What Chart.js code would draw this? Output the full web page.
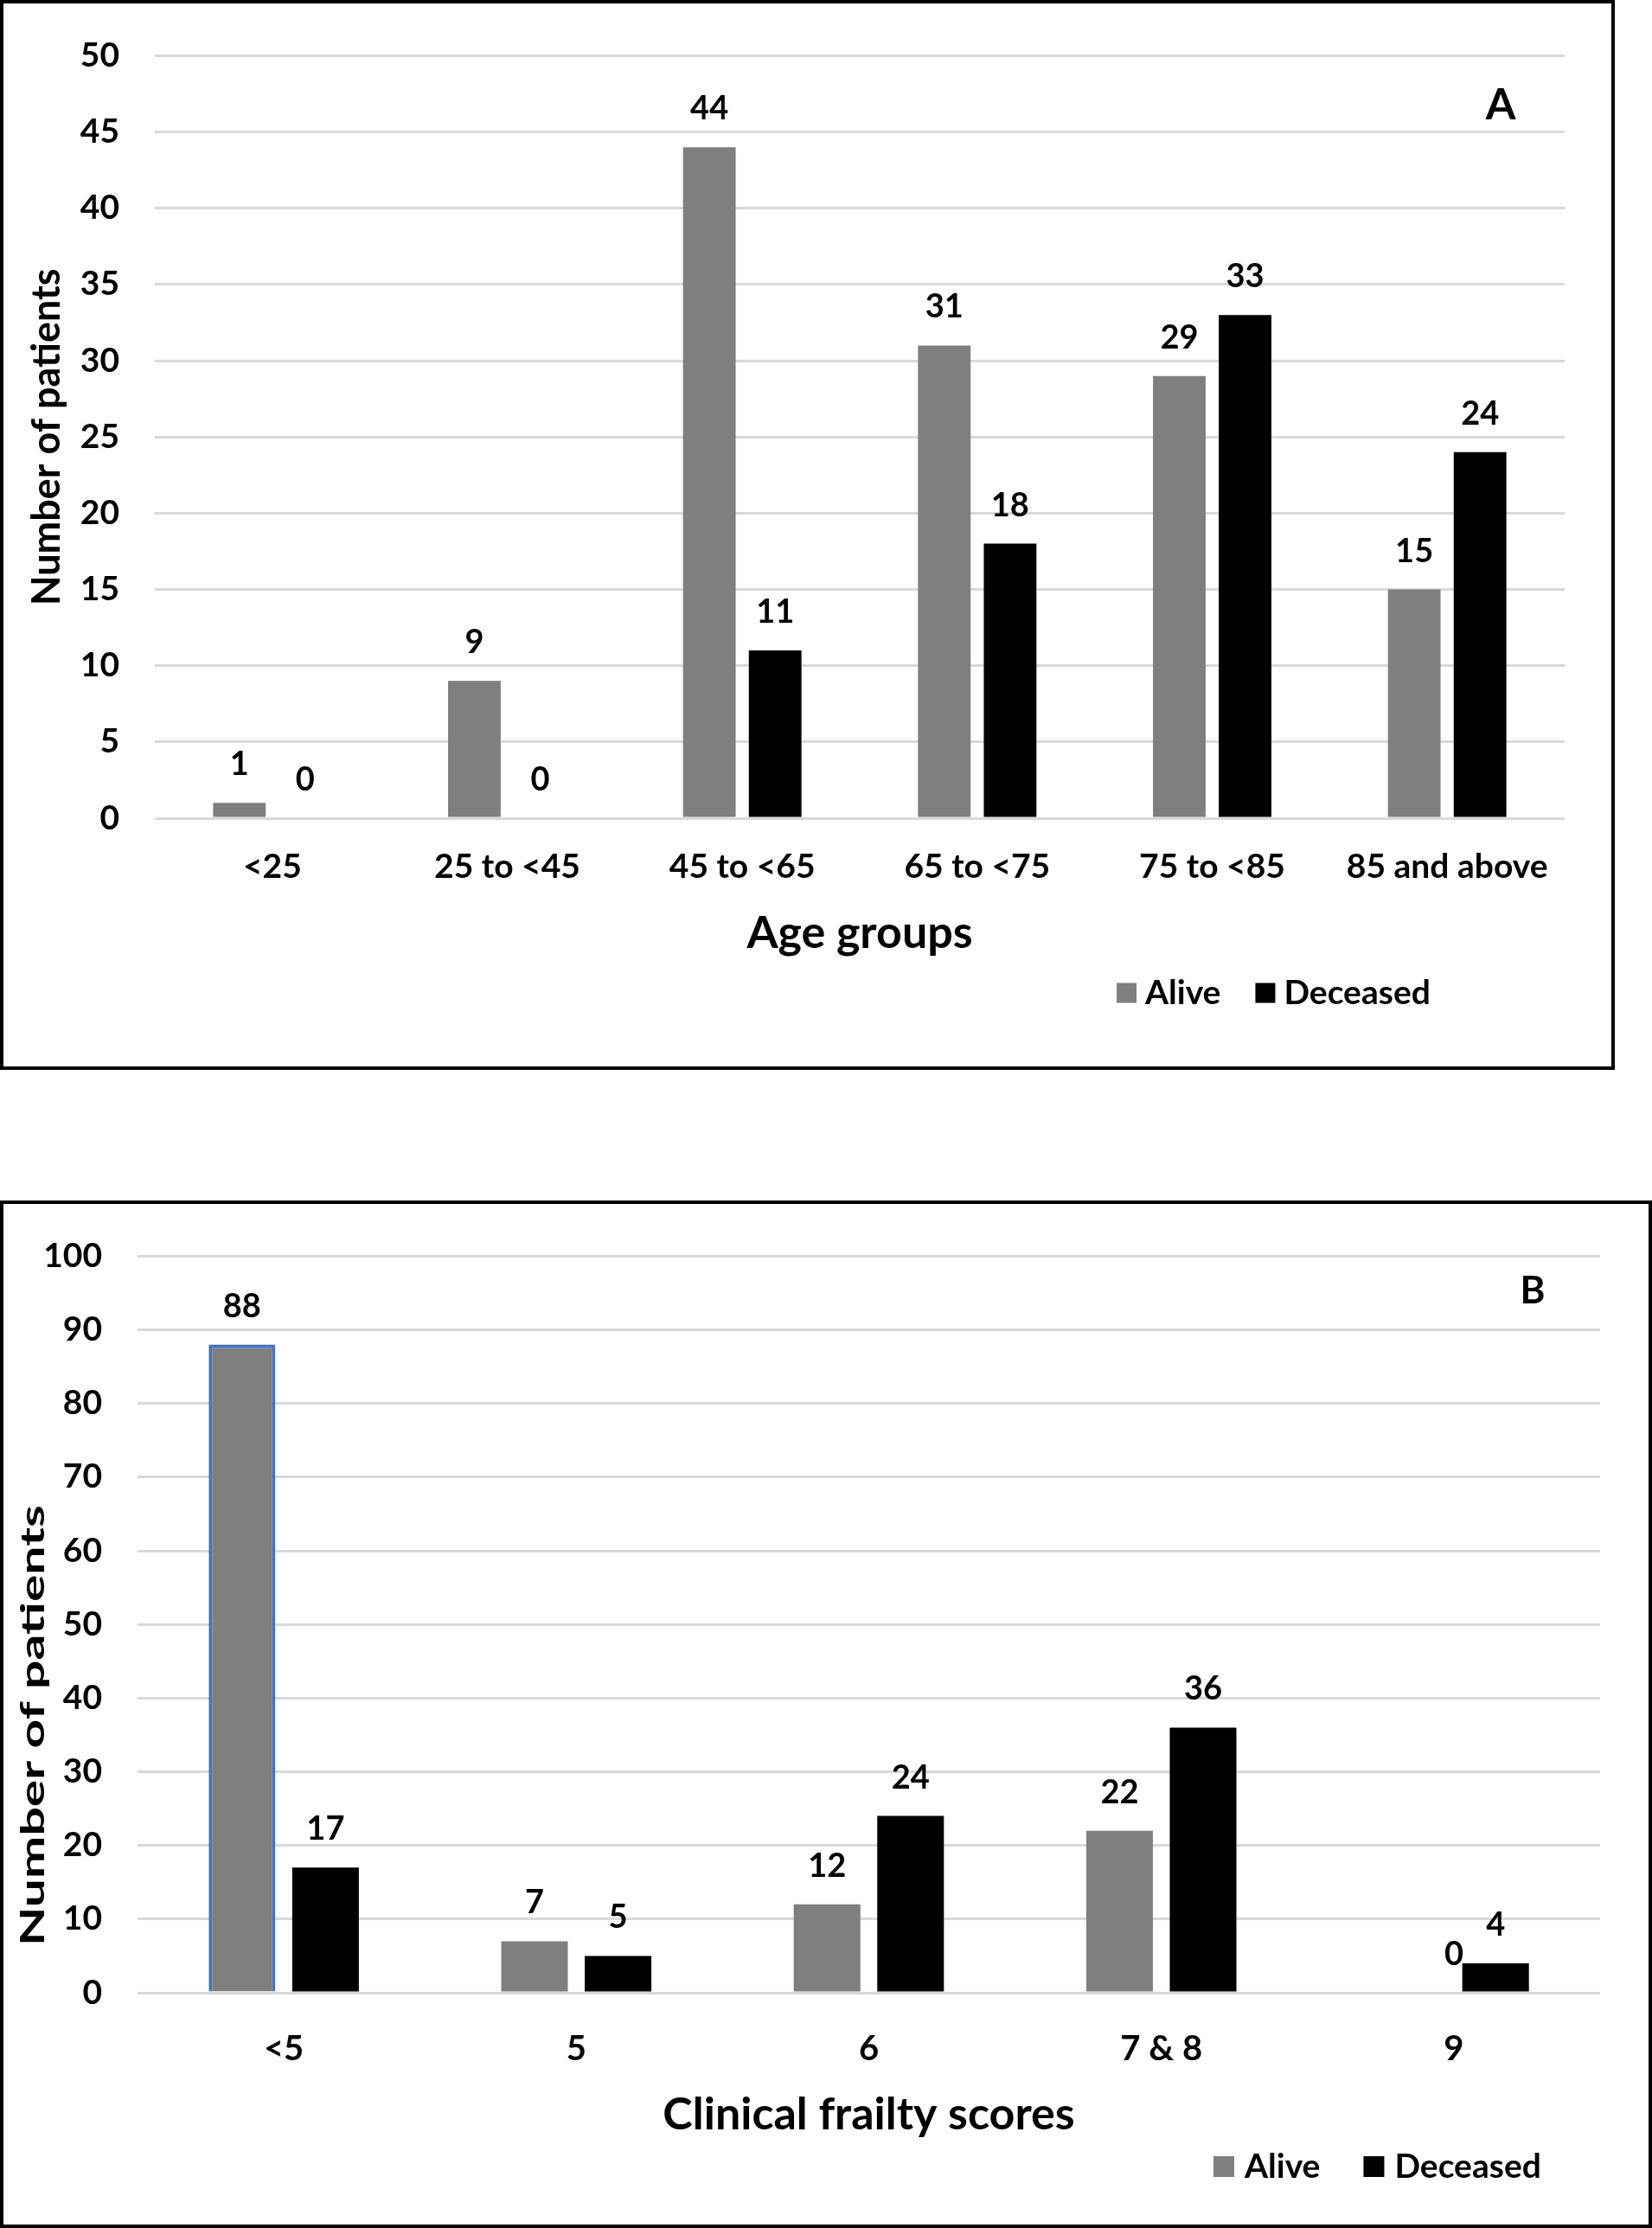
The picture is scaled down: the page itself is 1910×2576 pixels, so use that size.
<!DOCTYPE html>
<html><head><meta charset="utf-8">
<script src="https://cdn.jsdelivr.net/npm/chart.js@4.4.1/dist/chart.umd.min.js"></script>
<style>
html,body{margin:0;padding:0;background:#fff;}
body{width:1910px;height:2576px;position:relative;overflow:hidden;}
canvas{position:absolute;left:0;}
.frame{position:absolute;left:0;border:4px solid #000;box-sizing:border-box;pointer-events:none;}
</style></head>
<body>
<canvas id="chartA" width="1867" height="1237" style="top:0"></canvas>
<div class="frame" style="top:0;width:1867px;height:1237px"></div>
<canvas id="chartB" width="1910" height="1188" style="top:1388px"></canvas>
<div class="frame" style="top:1388px;width:1910px;height:1188px"></div>
<script>
// ---- data ----
const ageGroups = ['<25', '25 to <45', '45 to <65', '65 to <75', '75 to <85', '85 and above'];
const ageAlive = [1, 9, 44, 31, 29, 15];
const ageDeceased = [0, 0, 11, 18, 33, 24];
const ageAxisMax = 50;
const ageAxisStep = 5;

const frailtyScores = ['<5', '5', '6', '7 & 8', '9'];
const frailtyAlive = [88, 7, 12, 22, 0];
const frailtyDeceased = [17, 5, 24, 36, 4];
const frailtyAxisMax = 100;
const frailtyAxisStep = 10;

const seriesNames = ['Alive', 'Deceased'];
const ALIVE = '#7f7f7f', DECEASED = '#000000', HILITE = '#4472C4';
const FONT = 'Lato, "Open Sans", sans-serif';

Chart.defaults.font.family = FONT;
Chart.defaults.color = '#000';

const valueLabels = {
  id: 'valueLabels',
  afterDatasetsDraw(chart, args, o) {
    const ctx = chart.ctx;
    const xs = chart.scales.x;
    ctx.save();
    ctx.font = `bold ${o.size}px ${FONT}`;
    ctx.fillStyle = '#000';
    ctx.textAlign = 'center';
    ctx.textBaseline = 'alphabetic';
    chart.data.datasets.forEach((ds, di) => {
      const meta = chart.getDatasetMeta(di);
      meta.data.forEach((el, i) => {
        let x = el.x;
        if (o.zeroCentered && ds.data[i] === 0) x = xs.getPixelForValue(i);
        ctx.fillText(String(ds.data[i]), x, el.y - o.gap);
      });
    });
    ctx.restore();
  }
};

const extras = {
  id: 'extras',
  afterDraw(chart, args, o) {
    const ctx = chart.ctx;
    ctx.save();
    ctx.font = `bold ${o.legendSize}px ${FONT}`;
    ctx.textBaseline = 'middle';
    ctx.textAlign = 'left';
    let x = o.legendX;
    chart.data.datasets.forEach(ds => {
      ctx.fillStyle = ds.backgroundColor;
      ctx.fillRect(x, o.legendY - o.box / 2, o.box, o.box);
      x += o.box + o.textGap;
      ctx.fillStyle = '#000';
      ctx.fillText(ds.label, x, o.legendY);
      x += ctx.measureText(ds.label).width + o.itemGap;
    });
    ctx.font = `bold ${o.letterSize}px ${FONT}`;
    ctx.textAlign = 'center';
    ctx.fillText(o.letter, o.letterX, o.letterY);
    if (o.yTitle) {
      ctx.translate(o.yTitleX, o.yTitleY);
      ctx.rotate(-Math.PI / 2);
      ctx.scale(o.yTitleStretch, 1);
      ctx.font = `bold ${o.yTitleSize}px ${FONT}`;
      ctx.fillText(o.yTitle, 0, 0);
    }
    ctx.restore();
  }
};

function makeChart(id, cfg) {
  return new Chart(document.getElementById(id), {
    type: 'bar',
    data: {
      labels: cfg.labels,
      datasets: [
        { label: seriesNames[0], data: cfg.alive, backgroundColor: ALIVE,
          borderColor: cfg.aliveBorderColor || ALIVE, borderWidth: cfg.aliveBorderWidth || 0,
          categoryPercentage: cfg.catPct, barPercentage: cfg.barPct },
        { label: seriesNames[1], data: cfg.deceased, backgroundColor: DECEASED, borderWidth: 0,
          categoryPercentage: cfg.catPct, barPercentage: cfg.barPct }
      ]
    },
    options: {
      responsive: false,
      animation: false,
      devicePixelRatio: 1,
      layout: { padding: { top: cfg.padTop, right: cfg.padRight, left: 0, bottom: 0 } },
      plugins: {
        legend: { display: false },
        tooltip: { enabled: false },
        valueLabels: { size: 38, gap: 32, zeroCentered: cfg.zeroCentered },
        extras: cfg.extras
      },
      scales: {
        x: {
          grid: { display: false, drawTicks: false },
          border: { display: false },
          ticks: { font: { size: cfg.xTickSize, weight: 'bold' }, padding: cfg.xTickPad, maxRotation: 0, autoSkip: false },
          title: { display: true, text: cfg.xTitle, font: { size: cfg.xTitleSize, weight: 'bold' },
                   padding: { top: 0, bottom: cfg.xTitlePad } },
          afterFit: s => { s.height = cfg.xHeight; }
        },
        y: {
          min: 0, max: cfg.yMax,
          ticks: { stepSize: cfg.yStep, font: { size: 39, weight: 'bold' }, padding: 41 },
          grid: { color: '#d9d9d9', lineWidth: 3, drawTicks: false },
          border: { display: false },
          title: cfg.yTitleNative ? { display: true, text: 'Number of patients',
                   font: { size: cfg.yTitleSize, weight: 'bold' }, padding: { top: cfg.yTitlePad, bottom: 0 } } : { display: false },
          afterFit: s => { s.width = cfg.yWidth; }
        }
      }
    },
    plugins: [valueLabels, extras]
  });
}

makeChart('chartA', {
  labels: ageGroups, alive: ageAlive, deceased: ageDeceased,
  catPct: 0.56, barPct: 0.8, zeroCentered: false,
  padTop: 58, padRight: 58,
  yMax: ageAxisMax, yStep: ageAxisStep, yWidth: 179,
  xHeight: 291, xTickSize: 39, xTickPad: 33,
  xTitle: 'Age groups', xTitleSize: 52, xTitlePad: 127,
  yTitleNative: true, yTitleSize: 45, yTitlePad: 27,
  extras: { legendSize: 39, legendX: 1291, legendY: 1148, box: 23, textGap: 10, itemGap: 40,
            letter: 'A', letterSize: 50, letterX: 1735, letterY: 122 }
});

makeChart('chartB', {
  labels: frailtyScores, alive: frailtyAlive, deceased: frailtyDeceased,
  aliveBorderColor: frailtyAlive.map((v, i) => i === 0 ? HILITE : ALIVE),
  aliveBorderWidth: frailtyAlive.map((v, i) => i === 0 ? 4 : 0),
  catPct: 0.571, barPct: 0.798, zeroCentered: true,
  padTop: 62, padRight: 60,
  yMax: frailtyAxisMax, yStep: frailtyAxisStep, yWidth: 159,
  xHeight: 272, xTickSize: 40, xTickPad: 41,
  xTitle: 'Clinical frailty scores', xTitleSize: 52, xTitlePad: 100,
  yTitleNative: false,
  extras: { legendSize: 39, legendX: 1403, legendY: 1117, box: 24, textGap: 12, itemGap: 50,
            letter: 'B', letterSize: 44, letterX: 1772, letterY: 105,
            yTitle: 'Number of patients', yTitleSize: 38, yTitleStretch: 1.55, yTitleX: 39, yTitleY: 607 }
});
</script>
</body></html>
